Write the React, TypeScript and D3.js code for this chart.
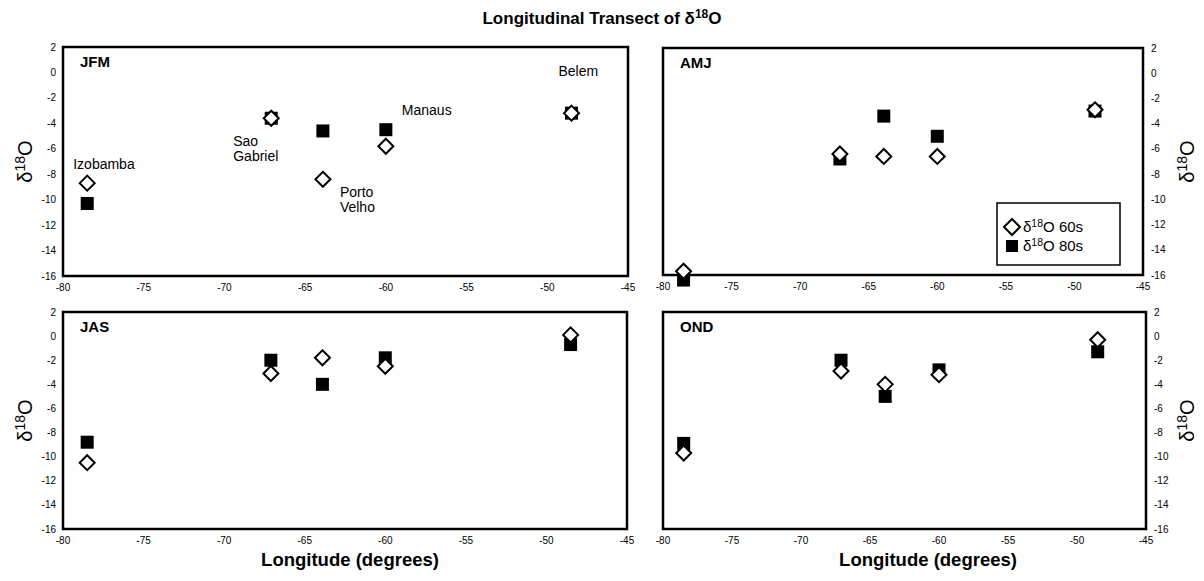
import React from 'react';
import * as d3 from 'd3';

// stations along the transect (west -> east)
const stations = ['Izobamba', 'Sao Gabriel', 'Porto Velho', 'Manaus', 'Belem'];
const longitudes = [-78.5, -67.1, -63.9, -60.0, -48.5];

const seasons = ['JFM', 'AMJ', 'JAS', 'OND'];

// delta 18O, 1960s and 1980s, per season
const jfm60s = [-8.7, -3.6, -8.4, -5.8, -3.2];
const jfm80s = [-10.3, -3.6, -4.6, -4.5, -3.2];
const amj60s = [-15.7, -6.4, -6.6, -6.6, -2.9];
const amj80s = [-16.4, -6.8, -3.4, -5.0, -3.0];
const jas60s = [-10.5, -3.1, -1.8, -2.5, 0.1];
const jas80s = [-8.8, -2.0, -4.0, -1.8, -0.7];
const ond60s = [-9.7, -2.9, -4.0, -3.2, -0.3];
const ond80s = [-8.9, -2.0, -5.0, -2.8, -1.3];

const xTicks = [-80, -75, -70, -65, -60, -55, -50, -45];
const yTicks = [2, 0, -2, -4, -6, -8, -10, -12, -14, -16];

const values60s = [jfm60s, amj60s, jas60s, ond60s];
const values80s = [jfm80s, amj80s, jas80s, ond80s];

const font = 'Arial, "Liberation Sans", Helvetica, sans-serif';

// panel boxes in page pixels
const panels = [
  { x0: 63, x1: 628, y0: 47, y1: 276, side: 'left' },
  { x0: 663, x1: 1143, y0: 48, y1: 275, side: 'right' },
  { x0: 63, x1: 627, y0: 312, y1: 529, side: 'left' },
  { x0: 663, x1: 1146, y0: 312, y1: 529, side: 'right' },
];

// where the station names go in the JFM panel (offset from the 60s marker)
const labelPos = [
  { dx: -14, dy: -14, lines: ['Izobamba'] },
  { dx: -38, dy: 28, lines: ['Sao', 'Gabriel'] },
  { dx: 17, dy: 18, lines: ['Porto', 'Velho'] },
  { dx: 16, dy: -31, lines: ['Manaus'] },
  { dx: -13, dy: -37, lines: ['Belem'] },
];

const Diamond = ({ cx, cy, r = 7.5 }) => (
  <path
    d={`M${cx},${cy - r}L${cx + r},${cy}L${cx},${cy + r}L${cx - r},${cy}Z`}
    fill="#fff"
    stroke="#000"
    strokeWidth={2}
  />
);

const Square = ({ cx, cy, s = 13 }) => (
  <rect x={cx - s / 2} y={cy - s / 2} width={s} height={s} fill="#000" />
);

const Delta = ({ x, y, anchor = 'middle', size = 20, rotate = false, after = '' }) => (
  <text
    x={x}
    y={y}
    fontSize={size}
    textAnchor={anchor}
    fontFamily={font}
    transform={rotate ? `rotate(-90,${x},${y})` : undefined}
  >
    δ<tspan fontSize={size * 0.7} dy={-size * 0.35}>18</tspan>
    <tspan dy={size * 0.35}>O{after}</tspan>
  </text>
);

const Panel = ({ idx }) => {
  const p = panels[idx];
  const x = d3.scaleLinear().domain([-80, -45]).range([p.x0, p.x1]);
  const y = d3.scaleLinear().domain([-16, 2]).range([p.y1, p.y0]);
  const v60 = values60s[idx];
  const v80 = values80s[idx];
  const left = p.side === 'left';
  return (
    <g>
      <rect
        x={p.x0}
        y={p.y0}
        width={p.x1 - p.x0}
        height={p.y1 - p.y0}
        fill="none"
        stroke="#000"
        strokeWidth={2.5}
      />
      <text x={p.x0 + 17} y={p.y0 + 20} fontSize={15} fontWeight="bold" fontFamily={font}>
        {seasons[idx]}
      </text>
      {xTicks.map(t => (
        <text key={t} x={x(t)} y={p.y1 + 15} fontSize={10} textAnchor="middle" fontFamily={font}>
          {t}
        </text>
      ))}
      {yTicks.map(t => (
        <text
          key={t}
          x={left ? p.x0 - 7 : p.x1 + 8}
          y={y(t) + 3.5}
          fontSize={10}
          textAnchor={left ? 'end' : 'start'}
          fontFamily={font}
        >
          {t}
        </text>
      ))}
      <Delta x={left ? 32 : 1194} y={(p.y0 + p.y1) / 2} rotate />
      {longitudes.map((lon, i) => (
        <Square key={'s' + i} cx={x(lon)} cy={y(v80[i])} />
      ))}
      {longitudes.map((lon, i) => (
        <Diamond key={'d' + i} cx={x(lon)} cy={y(v60[i])} />
      ))}
      {idx === 0 &&
        stations.map((s, i) => {
          const lp = labelPos[i];
          const cx = x(longitudes[i]) + lp.dx;
          const cy = y(v60[i]) + lp.dy;
          return (
            <text key={s} x={cx} y={cy} fontSize={14} fontFamily={font}>
              {lp.lines.map((l, j) => (
                <tspan key={j} x={cx} dy={j === 0 ? 0 : 15}>
                  {l}
                </tspan>
              ))}
            </text>
          );
        })}
    </g>
  );
};

const Legend = () => (
  <g>
    <rect x={997} y={203} width={123} height={62} fill="#fff" stroke="#000" strokeWidth={1.5} />
    <Diamond cx={1012} cy={227} r={8} />
    <Delta x={1023} y={232} anchor="start" size={15} after=" 60s" />
    <Square cx={1012} cy={246} s={12} />
    <Delta x={1023} y={251} anchor="start" size={15} after=" 80s" />
  </g>
);

export default function App() {
  return (
    <svg
      width={1204}
      height={581}
      style={{ position: 'absolute', left: 0, top: 0, background: '#fff' }}
    >
      <text x={602} y={24} fontSize={17} fontWeight="bold" textAnchor="middle" fontFamily={font}>
        Longitudinal Transect of δ<tspan fontSize={12} dy={-6}>18</tspan>
        <tspan dy={6}>O</tspan>
      </text>
      {seasons.map((s, i) => (
        <Panel key={s} idx={i} />
      ))}
      <Legend />
      <text x={350} y={566} fontSize={18.5} fontWeight="bold" textAnchor="middle" fontFamily={font}>
        Longitude (degrees)
      </text>
      <text x={928} y={566} fontSize={18.5} fontWeight="bold" textAnchor="middle" fontFamily={font}>
        Longitude (degrees)
      </text>
    </svg>
  );
}
